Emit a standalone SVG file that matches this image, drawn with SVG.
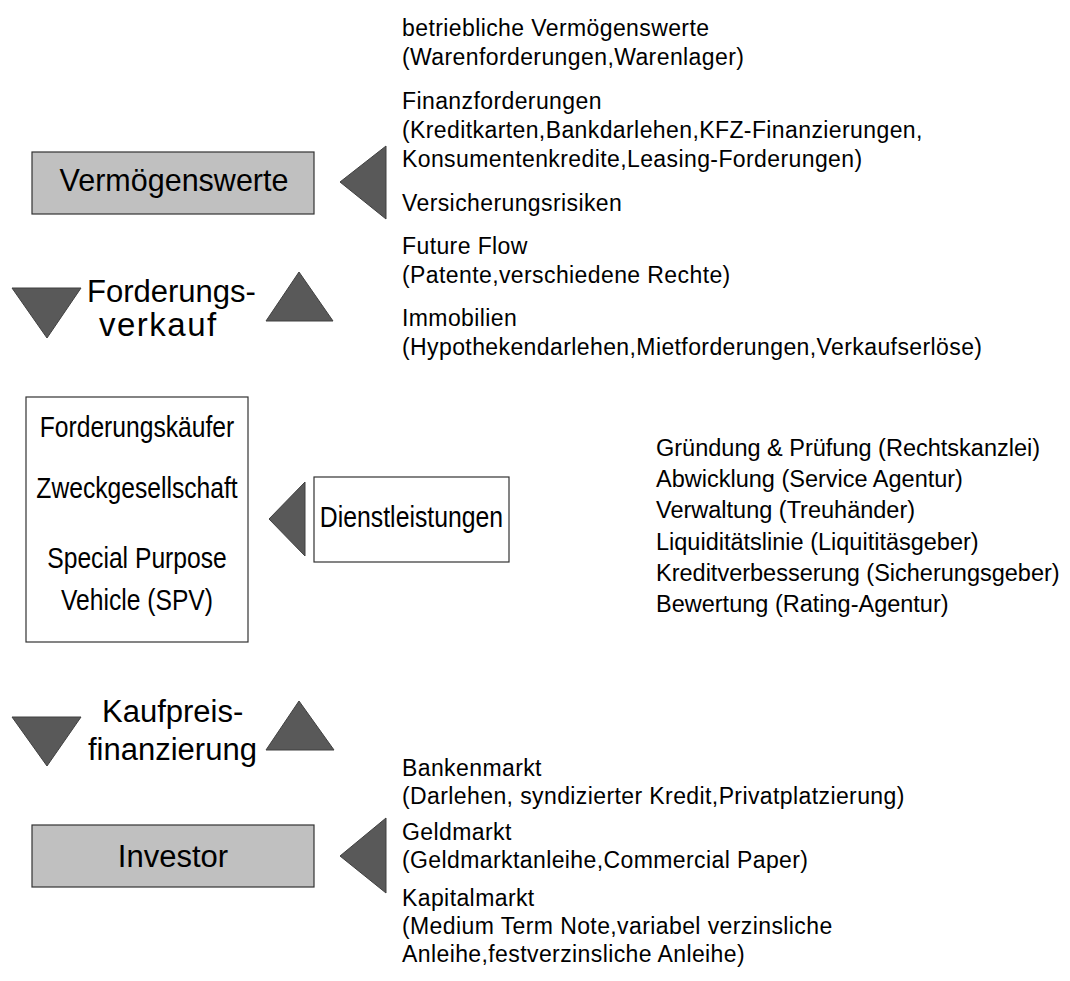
<svg xmlns="http://www.w3.org/2000/svg" width="1070" height="981" viewBox="0 0 1070 981">
  <style>
    text { font-family: "Liberation Sans", Arial, Helvetica, sans-serif; fill: #000; }
    .big { font-size: 31px; }
    .cond { font-size: 29px; text-anchor: middle; }
    .list { font-size: 23px; letter-spacing: 0.4px; }
    .svc { font-size: 23.5px; }
    .gray { fill: #c0c0c0; stroke: #333; stroke-width: 1.2; }
    .white { fill: #fff; stroke: #333; stroke-width: 1.2; }
    .tri { fill: #595959; stroke: #404040; stroke-width: 1; stroke-linejoin: miter; }
  </style>

  <rect width="1070" height="981" fill="#fff"/>

  <!-- connectors: the solid triangle arrows -->
  <g id="connectors">
    <polygon class="tri" points="340,182 386,146 386,219"/>
    <polygon class="tri" points="12,288 81,288 47,338"/>
    <polygon class="tri" points="299,272 333,321 266,321"/>
    <polygon class="tri" points="269,519 305,482 305,556"/>
    <polygon class="tri" points="12,717 81,717 47,766"/>
    <polygon class="tri" points="299,701 334,750 266,750"/>
    <polygon class="tri" points="340,856 386,818 386,893"/>
  </g>

  <g id="node-vermoegenswerte">
    <rect class="gray" x="32" y="152" width="282" height="62"/>
    <text class="big" x="174" y="191" text-anchor="middle" style="font-size:30.5px">Vermögenswerte</text>
  </g>

  <g id="label-forderungsverkauf">
    <text class="big" x="87" y="302">Forderungs-</text>
    <text class="big" x="99" y="336" style="font-size:33px;letter-spacing:1.5px">verkauf</text>
  </g>

  <g id="node-spv">
    <rect class="white" x="26" y="397" width="222" height="245"/>
    <g transform="translate(137,0) scale(0.85,1)">
      <text class="cond" x="0" y="437">Forderungskäufer</text>
      <text class="cond" x="0" y="498">Zweckgesellschaft</text>
      <text class="cond" x="0" y="568">Special Purpose</text>
      <text class="cond" x="0" y="610">Vehicle (SPV)</text>
    </g>
  </g>

  <g id="node-dienstleistungen">
    <rect class="white" x="314" y="477" width="195" height="85"/>
    <g transform="translate(411.5,0) scale(0.855,1)">
      <text class="cond" x="0" y="527">Dienstleistungen</text>
    </g>
  </g>

  <g id="label-kaufpreisfinanzierung">
    <text class="big" x="102" y="722">Kaufpreis-</text>
    <text class="big" x="88" y="760">finanzierung</text>
  </g>

  <g id="node-investor">
    <rect class="gray" x="32" y="825" width="282" height="62"/>
    <text class="big" x="173" y="867" text-anchor="middle">Investor</text>
  </g>

  <g id="list-assets">
    <text class="list" x="402" y="36">betriebliche Vermögenswerte</text>
    <text class="list" x="402" y="65">(Warenforderungen,Warenlager)</text>
    <text class="list" x="402" y="109">Finanzforderungen</text>
    <text class="list" x="402" y="138">(Kreditkarten,Bankdarlehen,KFZ-Finanzierungen,</text>
    <text class="list" x="402" y="167">Konsumentenkredite,Leasing-Forderungen)</text>
    <text class="list" x="402" y="211">Versicherungsrisiken</text>
    <text class="list" x="402" y="254">Future Flow</text>
    <text class="list" x="402" y="283">(Patente,verschiedene Rechte)</text>
    <text class="list" x="402" y="326">Immobilien</text>
    <text class="list" x="402" y="355">(Hypothekendarlehen,Mietforderungen,Verkaufserlöse)</text>
  </g>

  <g id="list-services">
    <text class="svc" x="656" y="456">Gründung &amp; Prüfung (Rechtskanzlei)</text>
    <text class="svc" x="656" y="487">Abwicklung (Service Agentur)</text>
    <text class="svc" x="656" y="518">Verwaltung (Treuhänder)</text>
    <text class="svc" x="656" y="550">Liquiditätslinie (Liquititäsgeber)</text>
    <text class="svc" x="656" y="581">Kreditverbesserung (Sicherungsgeber)</text>
    <text class="svc" x="656" y="612">Bewertung (Rating-Agentur)</text>
  </g>

  <g id="list-markets">
    <text class="list" x="402" y="776">Bankenmarkt</text>
    <text class="list" x="402" y="804">(Darlehen, syndizierter Kredit,Privatplatzierung)</text>
    <text class="list" x="402" y="840">Geldmarkt</text>
    <text class="list" x="402" y="868">(Geldmarktanleihe,Commercial Paper)</text>
    <text class="list" x="402" y="906">Kapitalmarkt</text>
    <text class="list" x="402" y="934">(Medium Term Note,variabel verzinsliche</text>
    <text class="list" x="402" y="962">Anleihe,festverzinsliche Anleihe)</text>
  </g>
</svg>
